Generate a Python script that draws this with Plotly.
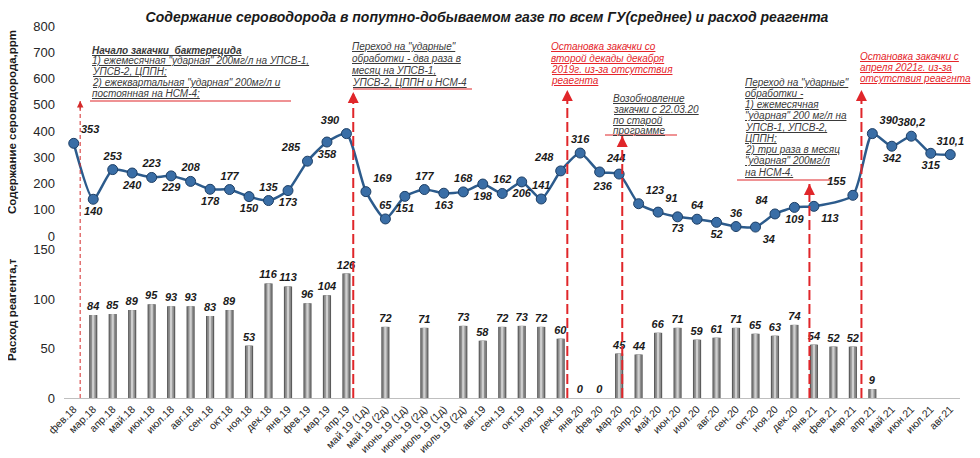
import plotly.graph_objects as go

# ---------------- data ----------------
categories = [
    "фев.18", "мар.18", "апр.18", "май.18", "июн.18", "июл.18", "авг.18", "сен.18",
    "окт.18", "ноя.18", "дек.18", "янв.19", "фев.19", "мар.19", "апр.19",
    "май 19 (1д)", "май 19 (2д)", "июнь 19 (1д)", "июнь 19 (2д)", "июль 19 (1д)", "июль 19 (2д)",
    "авг.19", "сен.19", "окт.19", "ноя.19", "дек.19", "янв.20", "фев.20", "мар.20",
    "апр.20", "май.20", "июн.20", "июл.20", "авг.20", "сен.20", "окт.20", "ноя.20",
    "дек.20", "янв.21", "фев.21", "мар.21", "апр.21", "май.21", "июн.21", "июл.21", "авг.21",
]

h2s_ppm = [
    353, 140, 253, 240, 223, 229, 208, 178, 177, 150, 135, 173, 285, 358, 390,
    169, 65, 151, 177, 163, 168,
    198, 162, 206, 141, 248, 316, 244, 236,
    123, 91, 73, 64, 52, 36, 34, 84,
    109, 113, None, 155, 390, 342, 380.2, 315, 310.1,
]

reagent_t = [
    None, 84, 85, 89, 95, 93, 93, 83, 89, 53, 116, 113, 96, 104, 126,
    None, 72, None, 71, None, 73,
    58, 72, 73, 72, 60, 0, 0, 45,
    44, 66, 71, 59, 61, 71, 65, 63,
    74, 54, 52, 52, 9, None, None, None, None,
]

h2s_label_pos = [
    "top right", "bottom center", "top center", "bottom center", "top center", "bottom center",
    "top center", "bottom center", "top center", "bottom center", "top center", "bottom center",
    "top left", "bottom center", "top left",
    "top right", "top center", "bottom center", "top center", "bottom center", "top center",
    "bottom center", "top center", "bottom center", "top center", "top left", "top center",
    "top right", "bottom left",
    "top right", "top right", "bottom center", "top center", "bottom center", "top center",
    "bottom right", "top left",
    "bottom center", "bottom right", "top center", "top left", "top right", "bottom center",
    "top center", "bottom center", "top center",
]

title_text = "Содержание сероводорода в попутно-добываемом газе по всем ГУ(среднее) и расход реагента"
y1_title = "Содержание сероводорода,ppm"
y2_title = "Расход реагента,т"

# Event markers: (category position, top pixel of arrow, thin?)
events = [
    (0.33, 101, True),
    (14.35, 92, False),
    (25.34, 90, False),
    (28.16, 136, False),
    (37.77, 184, False),
    (40.44, 90, False),
]

notes = [
    # (x px, first line y px, spacing, color, bold first line, lines)
    (90, 50, 10.8, "#3a3a3a", True, [
        "Начало закачки  бактерецида",
        "1) ежемесячная \"ударная\" 200мг/л на УПСВ-1,",
        "УПСВ-2, ЦППН;",
        "2) ежеквартальная \"ударная\" 200мг/л и",
        "постоянная на НСМ-4;",
    ]),
    (350, 47, 11.7, "#3a3a3a", False, [
        "Переход на \"ударные\"",
        "обработки - два раза в",
        "месяц на УПСВ-1,",
        "УПСВ-2, ЦППН и НСМ-4",
    ]),
    (549, 47, 11.3, "#e5252a", False, [
        "Остановка закачки со",
        "второй декады декабря",
        "2019г. из-за отсутствия",
        "реаегнта",
    ]),
    (611, 98, 11.0, "#3a3a3a", False, [
        "Возобновление",
        "закачки с 22.03.20",
        "по старой",
        "программе",
    ]),
    (743, 82, 11.25, "#3a3a3a", False, [
        "Переход на \"ударные\"",
        "обработки -",
        "1) ежемесячная",
        "\"ударная\" 200 мг/л на",
        "УПСВ-1, УПСВ-2,",
        "ЦППН;",
        "2) три раза в месяц",
        "\"ударная\" 200мг/л",
        "на НСМ-4.",
    ]),
    (858, 56, 11.0, "#e5252a", False, [
        "Остановка закачки с",
        "апреля 2021г. из-за",
        "отсутствия реаегнта",
    ]),
]

red_hlines = [  # (y px, x0 px, x1 px)
    (101, 90, 291),
    (89, 353, 472),
    (135, 605, 677),
    (180, 737, 830),
]

# ---------------- geometry helpers ----------------
# measured page pixels include the 8px default page margin
OFF = 8
W, H = 980, 458
L, R, T, B = 56, 28, 18, 68
PW, PH = W - L - R, H - T - B


def px_x(px):
    return (px - OFF - L) / PW


def px_y(py):
    return (H - B - (py - OFF)) / PH


split = px_y(236)

FONT = "Liberation Sans, Arial, sans-serif"

fig = go.Figure()

# bars (cylinder look with overlaid layers)
bar_layers = [(0.42, "#5c5c5c"), (0.30, "#8e8e8e"), (0.12, "#cfcfcf")]
for i, (w, c) in enumerate(bar_layers):
    fig.add_trace(go.Bar(
        x=categories, y=reagent_t, width=w, marker=dict(color=c, line=dict(width=0)),
        xaxis="x", yaxis="y",
        text=[("" if v is None else f"{v}") for v in reagent_t] if i == 0 else None,
        textposition="outside" if i == 0 else "none",
        constraintext="none",
        textfont=dict(family=FONT, size=11, color="#1a1a1a", weight="bold", style="italic"),
        cliponaxis=False, hoverinfo="x+y",
    ))

# line
fig.add_trace(go.Scatter(
    x=categories, y=h2s_ppm, xaxis="x", yaxis="y2",
    mode="lines+markers+text",
    line=dict(color="#2c5b8c", width=2.5, shape="spline", smoothing=0.6),
    marker=dict(size=10, color="#3a6ea6", line=dict(color="#1d3f66", width=1)),
    connectgaps=True,
    text=[("" if v is None else str(v).replace(".", ",")) for v in h2s_ppm],
    textposition=h2s_label_pos,
    textfont=dict(family=FONT, size=11, color="#1a1a1a", weight="bold", style="italic"),
    cliponaxis=False,
))

shapes = []
annotations = []

# red dashed event arrows
for xpos, top_px, thin in events:
    col = "#d42a2a" if thin else "#e0262a"
    shapes.append(dict(
        type="line", xref="x", yref="paper", x0=xpos, x1=xpos, y0=0, y1=px_y(top_px),
        line=dict(color=col, width=1 if thin else 2, dash="4px,3px" if thin else "10px,4px"),
        layer="above",
    ))
    annotations.append(dict(
        x=xpos, y=px_y(top_px), xref="x", yref="paper", text="", showarrow=True,
        ax=0, ay=10, arrowhead=2, arrowsize=1.3 if thin else 1.1,
        arrowwidth=1 if thin else 2, arrowcolor=col,
    ))

for y, x0, x1 in red_hlines:
    shapes.append(dict(
        type="line", xref="paper", yref="paper", x0=px_x(x0), x1=px_x(x1),
        y0=px_y(y), y1=px_y(y), line=dict(color="#e0262a", width=1.2),
    ))

# note text blocks
for x, y0, dy, col, bold_first, lines in notes:
    for k, ln in enumerate(lines):
        bold = bold_first and k == 0
        annotations.append(dict(
            x=px_x(x), y=px_y(y0 + k * dy), xref="paper", yref="paper",
            xanchor="left", yanchor="middle", showarrow=False,
            text="<u>" + ln.replace(" ", "&nbsp;") + "</u>",
            font=dict(family=FONT, size=10, color=col,
                      weight="bold" if bold else "normal", style="italic"),
        ))

# axis titles
for txt, ypx in ((y1_title, 122), (y2_title, 310)):
    annotations.append(dict(
        x=px_x(12), y=px_y(ypx), xref="paper", yref="paper",
        xanchor="center", yanchor="middle",
        text=txt, textangle=-90, showarrow=False,
        font=dict(family=FONT, size=11.5, color="#1a1a1a", weight="bold"),
    ))

fig.update_layout(
    width=W, height=H,
    margin=dict(l=L, r=R, t=T, b=B),
    plot_bgcolor="white", paper_bgcolor="white",
    showlegend=False, barmode="overlay",
    title=dict(text=title_text, x=(487 - OFF) / W, xanchor="center", y=1 - (17 - OFF) / H,
               yanchor="middle", xref="container", yref="container",
               font=dict(family=FONT, size=14, color="#1a1a1a", weight="bold", style="italic")),
    xaxis=dict(
        type="category", range=[-0.5, len(categories) - 0.5], tickangle=-45,
        tickfont=dict(family=FONT, size=10.5, color="#262626"),
        showline=True, linecolor="#bfbfbf", linewidth=1, showgrid=False, zeroline=False,
        ticks="", automargin=False,
    ),
    yaxis=dict(
        domain=[0, split], range=[0, 164], tickvals=[0, 50, 100, 150],
        tickfont=dict(family=FONT, size=13, color="#262626"),
        showgrid=False, zeroline=False, showline=False, ticks="", ticklabelstandoff=8,
        automargin=False,
    ),
    yaxis2=dict(
        domain=[split, 1], range=[0, 800], dtick=100, anchor="x",
        tickfont=dict(family=FONT, size=13, color="#262626"),
        showgrid=False, zeroline=False, showline=False, ticks="", ticklabelstandoff=8,
        automargin=False,
    ),
    shapes=shapes, annotations=annotations,
)

fig.write_html("out.html")
